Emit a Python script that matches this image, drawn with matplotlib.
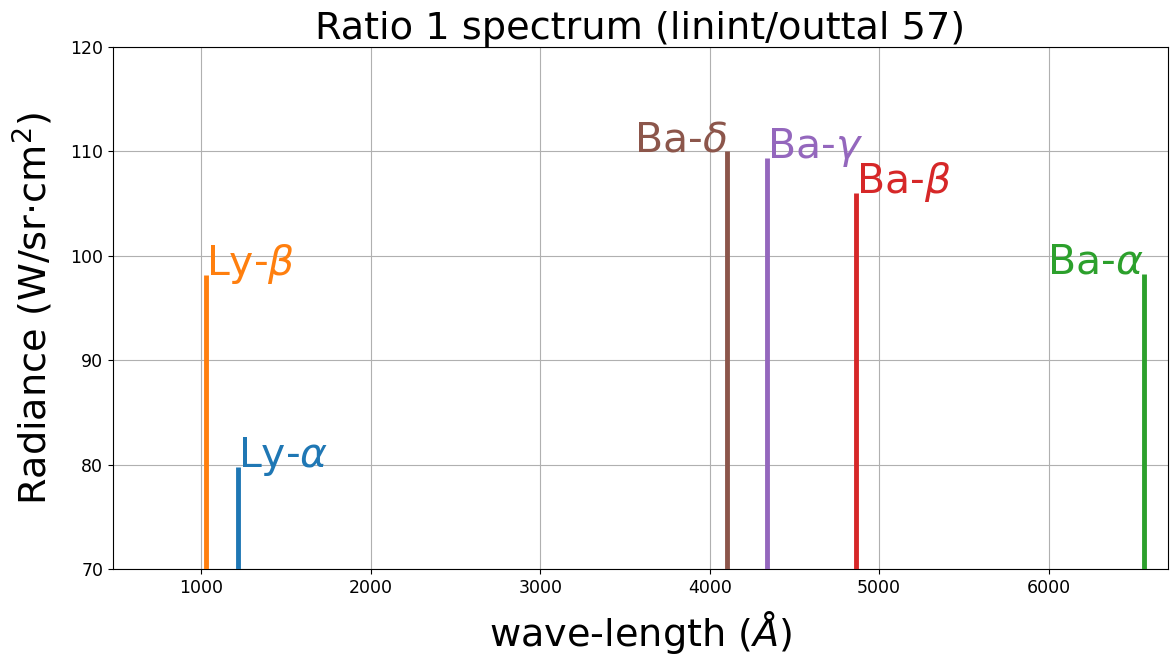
import matplotlib
matplotlib.use("Agg")
import matplotlib.pyplot as plt

labels = ["Ly-$\\alpha$", "Ly-$\\beta$", "Ba-$\\alpha$", "Ba-$\\beta$", "Ba-$\\gamma$", "Ba-$\\delta$"]
wavelengths = [1216, 1026, 6563, 4861, 4340, 4102]
radiance = [79.8, 98.2, 98.3, 106.0, 109.4, 110.0]
colors = ["C0", "C1", "C2", "C3", "C4", "C5"]
align = ["left", "left", "right", "left", "left", "right"]

fig = plt.figure(figsize=(11.7, 6.55), dpi=100)
ax = fig.add_axes([0.0966, 0.1313, 0.9014, 0.7969])

for lab, w, r, c, ha in zip(labels, wavelengths, radiance, colors, align):
    ax.vlines(w, 0, r, colors=c, linewidth=3.5, zorder=3)
    ax.text(w, r, lab, color=c, fontsize=29.5, ha=ha, va="baseline")

ax.set_xlim(478, 6703)
ax.set_ylim(70, 120)
ax.set_xticks([1000, 2000, 3000, 4000, 5000, 6000])
ax.set_yticks([70, 80, 90, 100, 110, 120])
ax.tick_params(labelsize=12.5)
ax.grid(True)
ax.set_axisbelow(True)
ax.set_title("Ratio 1 spectrum (linint/outtal 57)", fontsize=27.5)
ax.set_xlabel("wave-length ($\\AA$)", fontsize=27.5, labelpad=9)
ax.set_ylabel("Radiance (W/sr$\\cdot$cm$^2$)", fontsize=27.5, labelpad=11)

fig.savefig("out.png", dpi=100)
